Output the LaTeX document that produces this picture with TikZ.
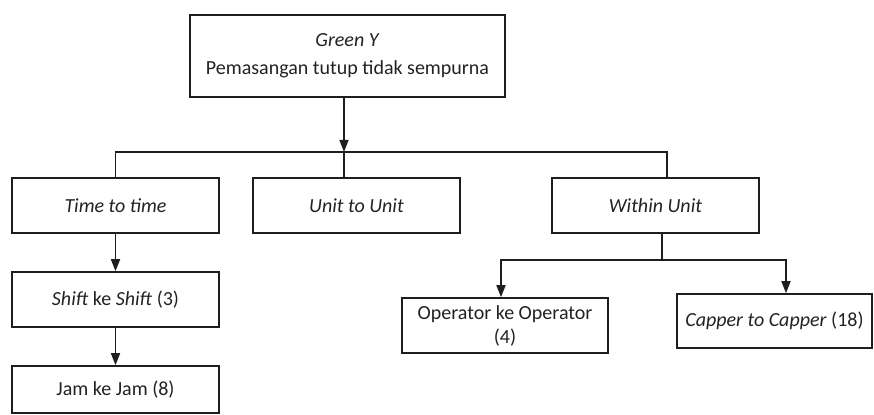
\documentclass[tikz,border=0pt]{standalone}
\usepackage{fontspec}
\setmainfont{Carlito}
\usepackage{tikz}
\usetikzlibrary{arrows.meta,positioning,calc}
\definecolor{treeline}{HTML}{1E1E1E}
\definecolor{treetext}{HTML}{222222}

\begin{document}
\begin{tikzpicture}[x=0.5pt,y=-0.5pt,
    box/.style={draw=treeline,line width=0.8pt,text=treetext,font=\fontsize{10}{12}\selectfont,
        align=center,inner sep=2pt,minimum width=103.5pt,minimum height=27.5pt},
    link/.style={draw=treeline,line width=0.8pt},
    arrow/.style={link,-{Triangle[length=6pt,width=4.5pt]}}]
    \useasboundingbox (0,0) rectangle (874,415);

    \node[box,minimum width=157.5pt,minimum height=41pt] (green) at (347.5,56)
        {\textit{Green Y}\\[2pt] Pemasangan tutup tidak sempurna};

    \node[box] (time) at (115.5,205.5) {\textit{Time to time}};
    \node[box] (unit) at (356.5,205.5) {\textit{Unit to Unit}};
    \node[box] (within) at (655.5,205.5) {\textit{Within Unit}};

    \node[box] (shift) at (115.5,299.5) {\textit{Shift} ke \textit{Shift} (3)};
    \node[box,minimum height=23.5pt] (jam) at (115.5,389.5) {Jam ke Jam (8)};

    \node[box,minimum width=103pt] (operator) at (505,325.5) {Operator ke Operator\\(4)};
    \node[box,minimum width=97.5pt,minimum height=27pt] (capper) at (774.5,321)
        {\textit{Capper to Capper} (18)};

    \coordinate (bus) at (344,152);
    \coordinate (fork) at (662,260);

    \draw[arrow] (green.south -| bus) -- (bus);
    \draw[link] (time.north) |- (bus);
    \draw[link] (bus) -| ([xshift=5.75pt]within.north);
    \draw[link] (bus) -- (bus |- unit.north);

    \draw[arrow] (time) -- (shift);
    \draw[arrow] (shift) -- (jam);

    \draw[link] (within.south -| fork) -- (fork);
    \draw[arrow] (fork) -| ([xshift=-2pt]operator.north);
    \draw[arrow] (fork) -| ([xshift=5.75pt]capper.north);
\end{tikzpicture}
\end{document}
